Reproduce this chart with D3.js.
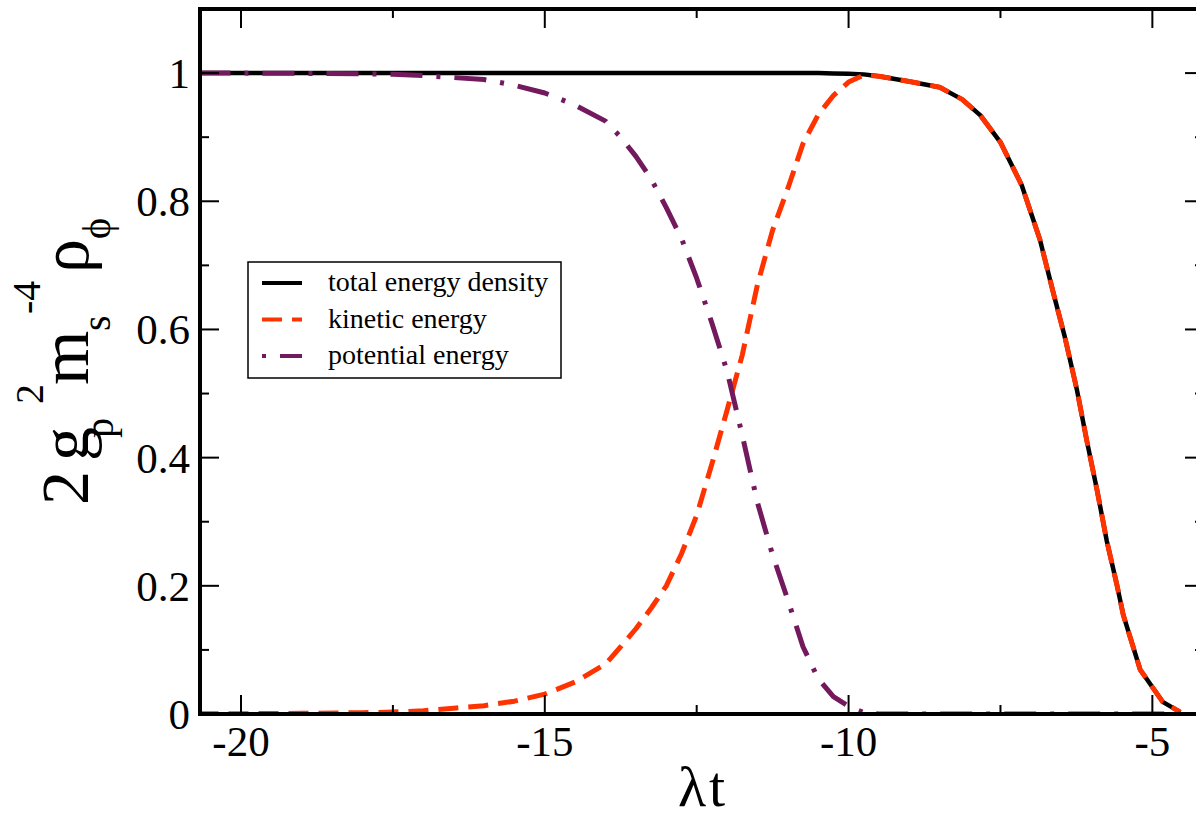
<!DOCTYPE html>
<html>
<head>
<meta charset="utf-8">
<script src="https://cdn.jsdelivr.net/npm/d3@7"></script>
<style>
  html, body { margin: 0; padding: 0; background: #fff; }
  svg { display: block; }
  text { font-family: "Liberation Serif", "DejaVu Serif", serif; fill: #000; }
</style>
</head>
<body>
<div id="chart"></div>
<script>
// time grid (lambda t)
const time = [-20.7, -20, -19, -18, -17.5, -17, -16.5, -16, -15.5, -15,
  -14.5, -14, -13.75, -13.5, -13.25, -13, -12.75, -12.5, -12.25, -12,
  -11.75, -11.5, -11.25, -11, -10.75, -10.5, -10.25, -10, -9.75, -9.5,
  -9, -8.5, -8.13, -7.83, -7.5, -7.15, -6.85, -6.63, -6.44, -6.24,
  -6.08, -5.91, -5.75, -5.58, -5.48, -5.2, -4.83, -4.54];

const total = [1, 1, 1, 1, 1, 1, 1, 1, 1, 1,
  1, 1, 1, 1, 1, 1, 1, 1, 1, 1,
  1, 1, 1, 1, 1, 1, 0.9995, 0.999, 0.998, 0.995,
  0.987, 0.978, 0.959, 0.934, 0.892, 0.825, 0.74, 0.657, 0.588, 0.505,
  0.427, 0.349, 0.27, 0.2, 0.155, 0.069, 0.019, 0.003];

const kinetic = [0.0003, 0.0005, 0.001, 0.002, 0.003, 0.005, 0.009, 0.013, 0.02, 0.031,
  0.05, 0.078, 0.105, 0.133, 0.165, 0.2, 0.25, 0.31, 0.39, 0.474,
  0.56, 0.67, 0.755, 0.82, 0.89, 0.935, 0.965, 0.986, 0.997, 0.995,
  0.987, 0.978, 0.959, 0.934, 0.892, 0.825, 0.74, 0.657, 0.588, 0.505,
  0.427, 0.349, 0.27, 0.2, 0.155, 0.069, 0.019, 0.003];

const potential = [1, 1, 0.9995, 0.999, 0.998, 0.996, 0.993, 0.99, 0.981, 0.969,
  0.95, 0.925, 0.9, 0.87, 0.835, 0.79, 0.742, 0.68, 0.61, 0.535,
  0.435, 0.33, 0.248, 0.178, 0.105, 0.055, 0.027, 0.012, 0.002, 0,
  0, 0, 0, 0, 0, 0, 0, 0, 0, 0,
  0, 0, 0, 0, 0, 0, 0, 0];

const xMajorTicks = [-20, -15, -10, -5];
const xMinorTicks = [-17.5, -12.5, -7.5];
const yMajorTicks = [0, 0.2, 0.4, 0.6, 0.8, 1];
const yMinorTicks = [0.1, 0.3, 0.5, 0.7, 0.9];

const seriesNames = ["total energy density", "kinetic energy", "potential energy"];

const width = 1196, height = 821;
const plot = { left: 200, right: 1204, top: 9, bottom: 714 };

const svg = d3.select("#chart").append("svg")
    .attr("width", width)
    .attr("height", height);

const x = d3.scaleLinear().domain([-20.675, -4.15]).range([plot.left, plot.right]);
const y = d3.scaleLinear().domain([0, 1.1]).range([plot.bottom, plot.top]);

svg.append("clipPath").attr("id", "clip")
  .append("rect")
    .attr("x", plot.left).attr("y", plot.top)
    .attr("width", plot.right - plot.left).attr("height", plot.bottom - plot.top);

// series styles
const styles = [
    { data: total, color: "#000000", dash: null, width: 4.5 },
    { data: kinetic, color: "#ff3300", dash: "20,10", width: 5 },
    { data: potential, color: "#731a5e", dash: "32,14,4,14", width: 5 }
];

const line = d3.line()
    .x(d => x(d[0]))
    .y(d => y(d[1]));

const lines = svg.append("g").attr("clip-path", "url(#clip)");
styles.forEach(s => {
    lines.append("path")
        .datum(time.map((t, i) => [t, s.data[i]]))
        .attr("fill", "none")
        .attr("stroke", s.color)
        .attr("stroke-width", s.width)
        .attr("stroke-dasharray", s.dash)
        .attr("stroke-linejoin", "round")
        .attr("d", line);
});

// ticks pointing inward on all four sides
const ticks = svg.append("g").attr("stroke", "#000").attr("stroke-width", 2);
const majorLen = 19, minorLen = 9;
xMajorTicks.concat(xMinorTicks).forEach(v => {
    const len = xMajorTicks.includes(v) ? majorLen : minorLen;
    ticks.append("line").attr("x1", x(v)).attr("x2", x(v))
        .attr("y1", plot.bottom).attr("y2", plot.bottom - len);
    ticks.append("line").attr("x1", x(v)).attr("x2", x(v))
        .attr("y1", plot.top).attr("y2", plot.top + len);
});
yMajorTicks.concat(yMinorTicks).forEach(v => {
    const len = yMajorTicks.includes(v) ? majorLen : minorLen;
    ticks.append("line").attr("y1", y(v)).attr("y2", y(v))
        .attr("x1", plot.left).attr("x2", plot.left + len);
    ticks.append("line").attr("y1", y(v)).attr("y2", y(v))
        .attr("x1", plot.right).attr("x2", plot.right - len);
});

// frame
svg.append("rect")
    .attr("x", plot.left).attr("y", plot.top)
    .attr("width", plot.right - plot.left).attr("height", plot.bottom - plot.top)
    .attr("fill", "none")
    .attr("stroke", "#000")
    .attr("stroke-width", 4);

// tick labels
svg.append("g").selectAll("text")
    .data(yMajorTicks)
    .join("text")
    .attr("x", 190)
    .attr("y", d => y(d) + 15)
    .attr("text-anchor", "end")
    .style("font-size", "43px")
    .text(d => d3.format("")(d));

svg.append("g").selectAll("text")
    .data(xMajorTicks)
    .join("text")
    .attr("x", d => x(d))
    .attr("y", 756)
    .attr("text-anchor", "middle")
    .style("font-size", "43px")
    .text(d => d);

// axis titles
svg.append("text")
    .attr("x", 703)
    .attr("y", 806)
    .attr("text-anchor", "middle")
    .style("font-size", "58px")
    .style("letter-spacing", "3px")
    .text("λt");

const yTitle = svg.append("text")
    .attr("transform", "translate(88,505) rotate(-90)");
const titleParts = [
    { s: "2", x: 0, y: 0, size: 68 },
    { s: "g", x: 44, y: 0, size: 68 },
    { s: "p", x: 67, y: 25, size: 40 },
    { s: "2", x: 101, y: -45, size: 40 },
    { s: "m", x: 120, y: 0, size: 70 },
    { s: "s", x: 174, y: 22, size: 40 },
    { s: "-4", x: 191, y: -48, size: 40 },
    { s: "ρ", x: 232, y: 0, size: 68 },
    { s: "ϕ", x: 266, y: 22, size: 40 }
];
titleParts.forEach(p => {
    yTitle.append("tspan")
        .attr("x", p.x)
        .attr("y", p.y)
        .style("font-size", p.size + "px")
        .text(p.s);
});

// legend
const legend = svg.append("g");
legend.append("rect")
    .attr("x", 248).attr("y", 262)
    .attr("width", 313).attr("height", 116)
    .attr("fill", "#fff")
    .attr("stroke", "#000")
    .attr("stroke-width", 1.5);

const legendOffsets = [0, 0, 46];
seriesNames.forEach((name, i) => {
    const ly = 283 + i * 36.5;
    legend.append("line")
        .attr("x1", 262).attr("x2", 302)
        .attr("y1", ly).attr("y2", ly)
        .attr("stroke", styles[i].color)
        .attr("stroke-width", 4)
        .attr("stroke-dasharray", styles[i].dash)
        .attr("stroke-dashoffset", legendOffsets[i]);
    legend.append("text")
        .attr("x", 328)
        .attr("y", ly + 8)
        .style("font-size", "28px")
        .text(name);
});
</script>
</body>
</html>
